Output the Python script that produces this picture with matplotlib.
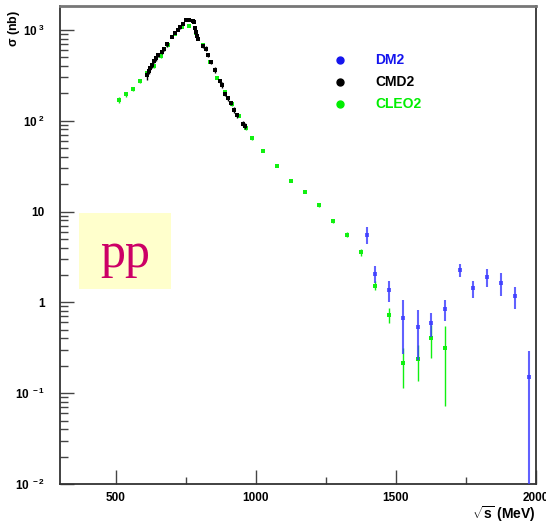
import matplotlib
matplotlib.use("Agg")
import matplotlib.pyplot as plt
import numpy as np
from matplotlib.patches import Rectangle

plt.rcParams['font.family'] = ['Liberation Sans', 'DejaVu Sans']
plt.rcParams['mathtext.fontset'] = 'custom'
plt.rcParams['mathtext.rm'] = 'Liberation Sans:bold'
plt.rcParams['mathtext.bf'] = 'Liberation Sans:bold'
plt.rcParams['mathtext.it'] = 'Liberation Sans:bold'

# DM2 (blue)
dm2_E = [1395, 1425, 1476, 1526, 1577, 1626, 1676, 1727, 1776, 1826, 1876, 1926, 1976]
dm2_s = [5.55, 2.07, 1.37, 0.67, 0.53, 0.59, 0.85, 2.26, 1.43, 1.90, 1.63, 1.16, 0.149]
dm2_e = [1.2, 0.45, 0.35, 0.40, 0.30, 0.17, 0.22, 0.38, 0.30, 0.42, 0.45, 0.32, 0.145]

# CMD2 (black)
cmd_E = [611, 617, 622, 629, 637, 644, 651, 663, 670, 682, 700, 711, 720, 730, 740,
         750, 762, 774, 780, 782, 786, 789, 794, 809, 821, 827, 839, 854, 872, 879,
         890, 901, 911, 922, 932, 952, 961]
cmd_s = [318, 352, 382, 409, 453, 484, 522, 573, 608, 696, 838, 934, 993, 1071, 1155,
         1279, 1290, 1256, 1225, 1060, 950, 853, 802, 662, 623, 527, 445, 360, 275, 247,
         196, 176, 155, 131, 115, 93, 87.5]
cmd_e = [38, 25, 20, 25, 22, 30, 20, 25, 20, 45, 30, 25, 30, 40, 35,
         30, 40, 30, 35, 40, 35, 30, 30, 25, 40, 25, 20, 25, 12, 18,
         10, 12, 8, 9, 8, 6, 6]

# CLEO2 (green)
cleo_E = [509, 536, 562, 587, 611, 634, 659, 686, 711, 737, 761, 787, 811, 837, 862,
          888, 913, 938, 963, 986, 1026, 1075, 1125, 1176, 1226, 1276, 1325, 1376,
          1425, 1476, 1526, 1577, 1626, 1676]
cleo_s = [169, 195, 225, 270, 337, 399, 514, 689, 903, 1087, 1115, 927, 684, 445, 297,
          205, 151, 114, 82, 64, 46.8, 32.0, 21.9, 16.6, 11.85, 7.9, 5.55, 3.57,
          1.53, 0.725, 0.214, 0.235, 0.405, 0.312]
cleo_e = [12, 14, 12, 10, 15, 18, 20, 25, 30, 35, 35, 30, 25, 15, 10,
          8, 6, 5, 3, 2.5, 1.5, 0.9, 0.6, 0.5, 0.6, 0.45, 0.35, 0.3,
          0.17, 0.14, 0.10, 0.10, 0.16, 0.24]

ytick_vals = [1e-2, 1e-1, 1, 10, 1e2, 1e3]
ytick_labs = [r'$10^{\ -2}$', r'$10^{\ -1}$', '1', '10', r'$10^{\ 2}$', r'$10^{\ 3}$']
xtick_vals = [500, 1000, 1500, 2000]

fig = plt.figure(figsize=(5.46, 5.23), dpi=100)
ax = fig.add_axes([60/546, 39/523, 476/546, 478/523])

ax.errorbar(cleo_E, cleo_s, yerr=cleo_e, fmt='s', color='#11f011', ms=2.6,
            mew=0, elinewidth=1, capsize=2, capthick=1, zorder=2)
ax.errorbar(cmd_E, cmd_s, yerr=cmd_e, fmt='s', color='black', ms=2.6,
            mew=0, elinewidth=1, capsize=2, capthick=1, zorder=3)
ax.errorbar(dm2_E, dm2_s, yerr=dm2_e, fmt='s', color='#3a3aff', ms=2.6,
            mew=0, elinewidth=1.5, capsize=2.5, capthick=1.5, alpha=0.8, zorder=4)

ax.set_yscale('log')
ax.set_xlim(300, 2000)
ax.set_ylim(0.01, 1830)

ax.set_xticks(xtick_vals)
ax.set_xticklabels([str(v) for v in xtick_vals])
ax.set_xticks([750, 1250, 1750], minor=True)
ax.set_yticks(ytick_vals)
ax.set_yticklabels(ytick_labs)
ax.yaxis.set_minor_locator(matplotlib.ticker.LogLocator(base=10, subs=np.arange(2, 10)))
ax.yaxis.set_minor_formatter(matplotlib.ticker.NullFormatter())

ax.tick_params(axis='both', which='major', direction='in', length=10, width=1,
               color='#444444', labelsize=8.5)
ax.tick_params(axis='both', which='minor', direction='in', length=6, width=1,
               color='#444444')
ax.tick_params(axis='x', which='minor', length=5)
ax.tick_params(top=False, right=False, which='both')
ax.tick_params(axis='y', pad=11)
ax.tick_params(axis='x', pad=6)
for lab in ax.get_xticklabels() + ax.get_yticklabels():
    lab.set_fontweight('bold')

for sp in ax.spines.values():
    sp.set_color('#333333')
    sp.set_linewidth(1.3)
ax.spines['top'].set_color('#777777')
ax.spines['top'].set_linewidth(2)

# legend
leg_y = [0.886, 0.84, 0.794]
leg_names = ['DM2', 'CMD2', 'CLEO2']
leg_cols = ['#1515ee', 'black', '#00ee00']
for yy, nm, cc in zip(leg_y, leg_names, leg_cols):
    ax.plot([0.589], [yy], 'o', color=cc, ms=5, transform=ax.transAxes)
    ax.text(0.663, yy, nm, color=cc, fontsize=10, fontweight='bold',
            va='center', ha='left', transform=ax.transAxes)

# pp box
ax.add_patch(Rectangle((0.0399, 0.408), 0.1933, 0.159, transform=ax.transAxes,
                       facecolor='#ffffcc', edgecolor='none', zorder=1))
ax.text(0.1366, 0.479, 'pp', transform=ax.transAxes,
        fontsize=36, color='#cc0066', family=['Liberation Serif', 'DejaVu Serif'],
        ha='center', va='center', zorder=2)

fig.text(14/546, 1 - 28/523, r'$\sigma$ (nb)', rotation=90, fontsize=9,
         fontweight='bold', ha='center', va='center')
fig.text(504/546, 1 - 514/523, r'$\sqrt{s}$ (MeV)', fontsize=10,
         fontweight='bold', ha='center', va='center')

fig.savefig('out.png', dpi=100)
